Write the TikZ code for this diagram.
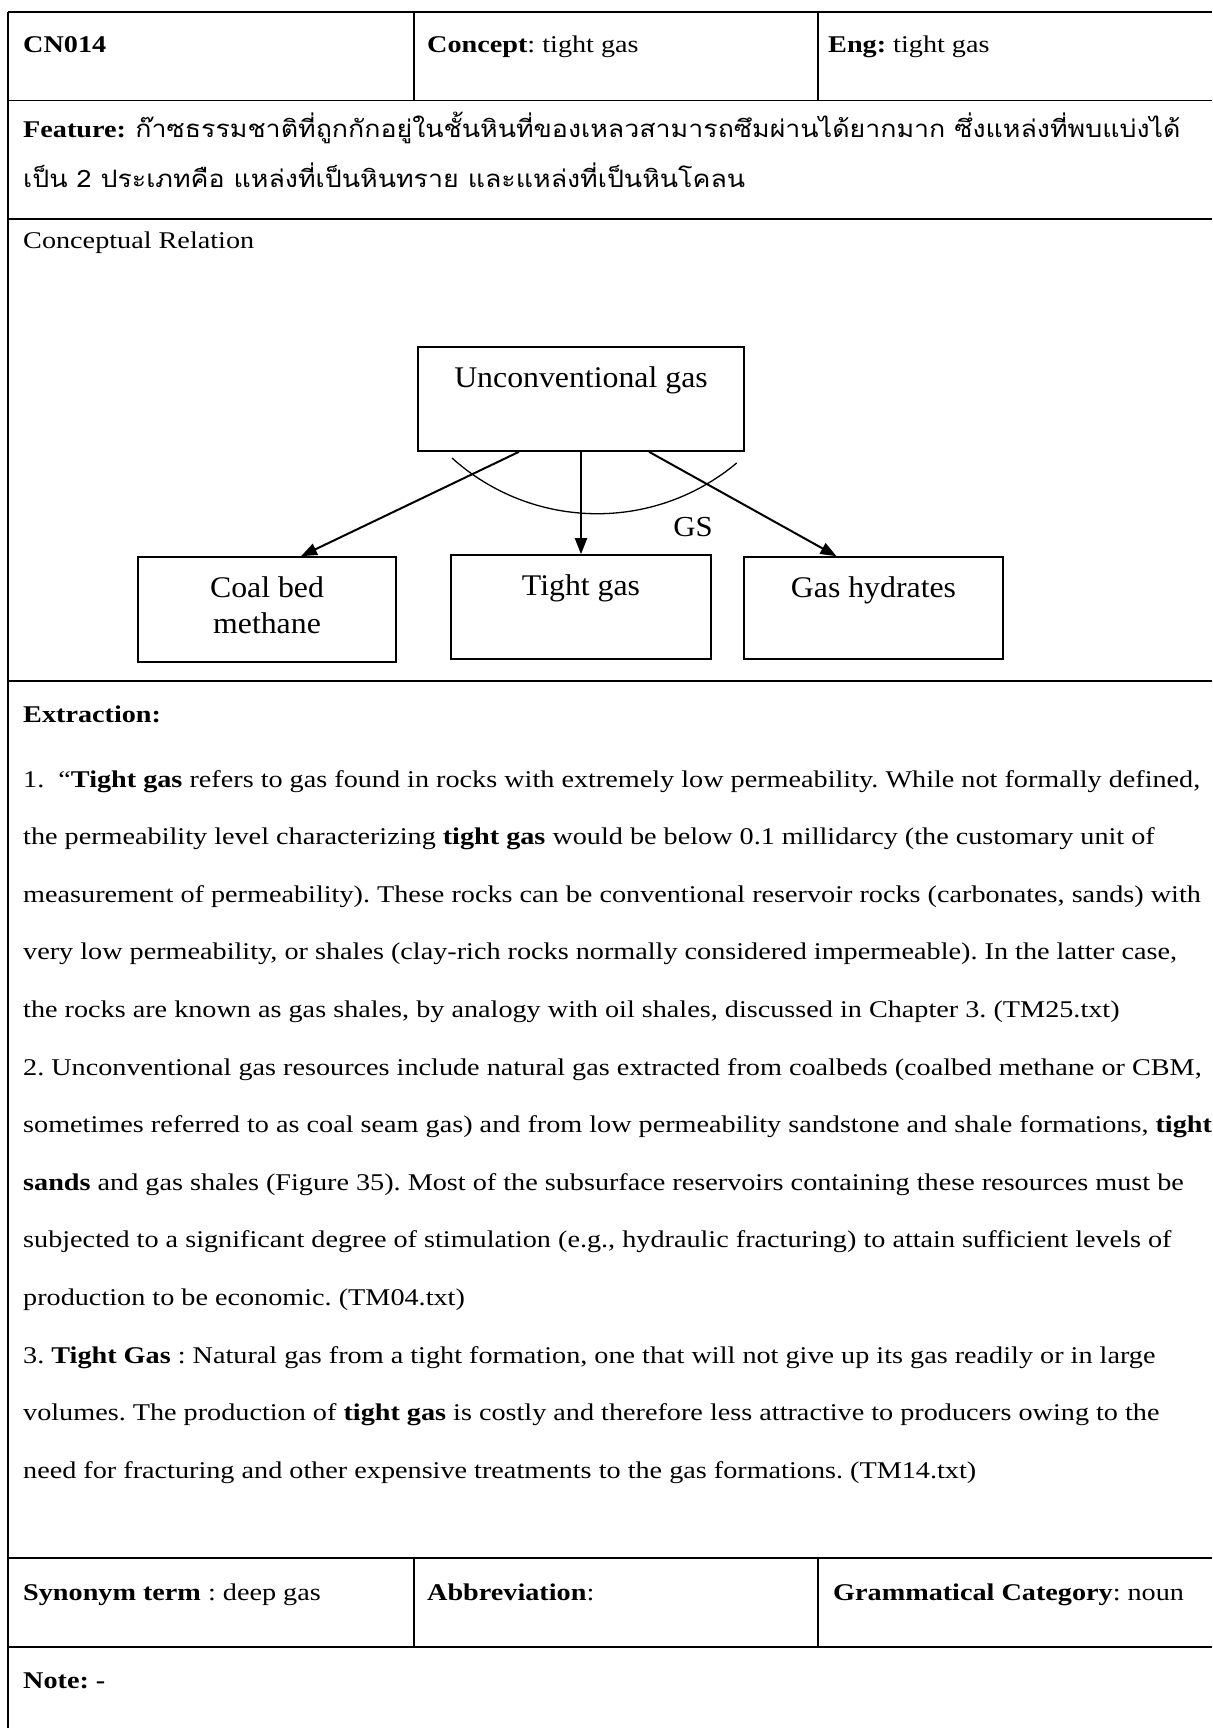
\documentclass[tikz,border=0pt]{standalone}
\usepackage{fontspec}
\setmainfont{Liberation Serif}[FakeStretch=1.175]
\newfontfamily\diagfont{Liberation Serif}[FakeStretch=1.06]
\newfontfamily\thaifont[Script=Thai,FakeStretch=1.115]{Loma}
\usetikzlibrary{arrows.meta}
\frenchspacing

\begin{document}
\begin{tikzpicture}[x=1pt,y=-1pt,
  rule/.style={line width=1.8pt},
  sep/.style={line width=1.4pt},
  txt/.style={anchor=base west, inner sep=0pt, font=\fontsize{24}{28}\selectfont},
  thai/.style={anchor=base west, inner sep=0pt, font=\fontsize{24}{28}\thaifont},
  box/.style={draw, line width=1.6pt, inner sep=0pt},
  boxlabel/.style={anchor=base, inner sep=0pt, align=center, font=\fontsize{30}{36}\diagfont},
  link/.style={line width=2pt, -{Triangle[length=16pt,width=12pt]}}
]
\useasboundingbox (0,0) rectangle (1212,1731);
\fill[white] (0,0) rectangle (1212,1731);

% table frame
\draw[sep] (8,12) -- (8,1728);
\foreach \yy in {12,100.5,219,681,1558,1647}
  \draw[rule] (8,\yy) -- (1212,\yy);
\draw[sep] (414,12) -- (414,100.5);
\draw[sep] (818,12) -- (818,100.5);
\draw[sep] (414,1558) -- (414,1647);
\draw[sep] (818,1558) -- (818,1647);

% header row
\node[txt] (id) at (23,53) {\textbf{CN014}};
\node[txt] (concept) at (427,53) {\textbf{Concept}: tight gas};
\node[txt] (eng) at (828,53) {\textbf{Eng:} tight gas};

% feature
\node[txt] (feat) at (23,138) {\textbf{Feature:}};
\node[thai] (feat1) at (feat.base east) {\ ก๊าซธรรมชาติที่ถูกกักอยู่ในชั้นหินที่ของเหลวสามารถซึมผ่านได้ยากมาก ซึ่งแหล่งที่พบแบ่งได้};
\node[thai] (feat2) at (23,188) {เป็น 2 ประเภทคือ แหล่งที่เป็นหินทราย และแหล่งที่เป็นหินโคลน};

% conceptual relation
\node[txt] (crel) at (23,248) {Conceptual Relation};

\node[box, minimum width=326pt, minimum height=104pt] (ug) at (581,399) {};
\node[box, minimum width=258pt, minimum height=105pt] (cbm) at (267,609.5) {};
\node[box, minimum width=260pt, minimum height=104pt] (tg) at (581,607) {};
\node[box, minimum width=259pt, minimum height=102pt] (gh) at (873.5,608) {};

\node[boxlabel] (ugt) at (581,387) {Unconventional gas};
\node[boxlabel] (cbmt1) at (267,597) {Coal bed};
\node[boxlabel] (cbmt2) at (267,633) {methane};
\node[boxlabel] (tgt) at (581,595) {Tight gas};
\node[boxlabel] (ght) at (873.5,597) {Gas hydrates};

\draw[link] ([xshift=-62pt]ug.south) -- ([xshift=34pt]cbm.north);
\draw[link] (ug.south) -- (tg.north);
\draw[link] ([xshift=68pt]ug.south) -- ([xshift=-37pt]gh.north);

\draw[line width=1.3pt] (452,458) arc[start angle=132, end angle=50, radius=217];
\node[inner sep=0pt, font=\fontsize{29}{34}\diagfont] (gs) at (693,527) {GS};

% extraction
\node[txt] (ext) at (23,722) {\textbf{Extraction:}};
\node[txt] (l1) at (23,787.0) {1.\ \ “\textbf{Tight gas} refers to gas found in rocks with extremely low permeability. While not formally defined,};
\node[txt] (l2) at (23,844.6) {the permeability level characterizing \textbf{tight gas} would be below 0.1 millidarcy (the customary unit of};
\node[txt] (l3) at (23,902.2) {measurement of permeability). These rocks can be conventional reservoir rocks (carbonates, sands) with};
\node[txt] (l4) at (23,959.8) {very low permeability, or shales (clay-rich rocks normally considered impermeable). In the latter case,};
\node[txt] (l5) at (23,1017.4) {the rocks are known as gas shales, by analogy with oil shales, discussed in Chapter 3. (TM25.txt)};
\node[txt] (l6) at (23,1075.0) {2. Unconventional gas resources include natural gas extracted from coalbeds (coalbed methane or CBM,};
\node[txt] (l7) at (23,1132.6) {sometimes referred to as coal seam gas) and from low permeability sandstone and shale formations, \textbf{tight}};
\node[txt] (l8) at (23,1190.2) {\textbf{sands} and gas shales (Figure 35). Most of the subsurface reservoirs containing these resources must be};
\node[txt] (l9) at (23,1247.8) {subjected to a significant degree of stimulation (e.g., hydraulic fracturing) to attain sufficient levels of};
\node[txt] (l10) at (23,1305.4) {production to be economic. (TM04.txt)};
\node[txt] (l11) at (23,1363.0) {3. \textbf{Tight Gas} : Natural gas from a tight formation, one that will not give up its gas readily or in large};
\node[txt] (l12) at (23,1420.6) {volumes. The production of \textbf{tight gas} is costly and therefore less attractive to producers owing to the};
\node[txt] (l13) at (23,1478.2) {need for fracturing and other expensive treatments to the gas formations. (TM14.txt)};

% synonym row
\node[txt] (syn) at (23,1600) {\textbf{Synonym term} : deep gas};
\node[txt] (abbr) at (427,1600) {\textbf{Abbreviation}:};
\node[txt] (gram) at (833,1600) {\textbf{Grammatical Category}: noun};

% note
\node[txt] (note) at (23,1688) {\textbf{Note: -}};
\end{tikzpicture}
\end{document}
